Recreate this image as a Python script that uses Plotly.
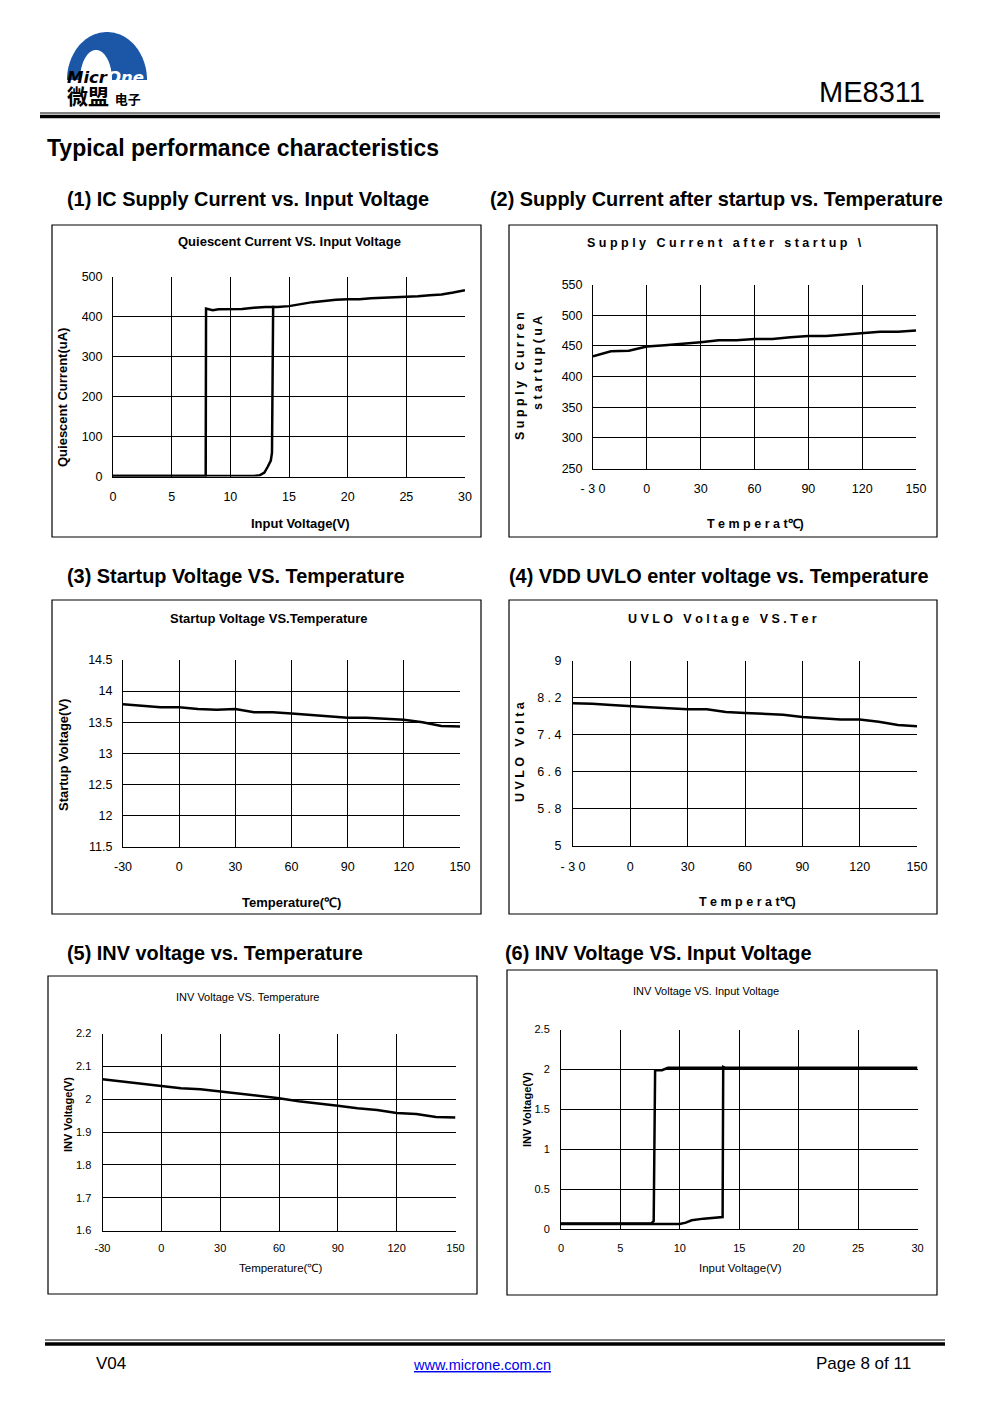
import plotly.graph_objects as go
import numpy as np

W, H = 991, 1403
def px(x): return x / W
def py(y): return 1 - y / H

# ---------------- data ----------------
# (1) Quiescent current vs input voltage
c1a_x = [0, 7.9, 7.93, 8.2, 8.5, 9, 10, 11, 12, 13, 14, 15, 16, 17, 18, 19, 20, 21, 22, 23, 24, 25, 26, 27, 28, 29, 30]
c1a_y = [1, 1, 421, 420, 417, 419, 420, 420, 423, 425, 425, 427, 432, 437, 440, 443, 444, 444, 447, 448, 449, 450, 452, 454, 456, 461, 467]
c1b_x = [0, 12, 12.5, 12.9, 13.2, 13.45, 13.55, 13.65]
c1b_y = [1, 1, 3, 10, 25, 40, 60, 428]

# temperature axis shared by (2)-(5)
temps = [-30, -20, -10, 0, 10, 20, 30, 40, 50, 60, 70, 80, 90, 100, 110, 120, 130, 140, 150]
# (2) Supply current after startup vs temperature
c2_y = [433, 441, 442, 449, 451, 453, 456, 459, 459, 461, 461, 464, 466, 466, 468, 471, 473, 473, 475]
# (3) Startup voltage vs temperature
c3_y = [13.79, 13.76, 13.74, 13.74, 13.71, 13.70, 13.71, 13.66, 13.66, 13.64, 13.62, 13.60, 13.57, 13.57, 13.56, 13.54, 13.50, 13.44, 13.43]
# (4) UVLO voltage vs temperature
c4_y = [8.08, 8.07, 8.04, 8.01, 7.99, 7.97, 7.95, 7.95, 7.89, 7.87, 7.85, 7.83, 7.78, 7.76, 7.73, 7.73, 7.68, 7.61, 7.58]
# (5) INV voltage vs temperature
c5_y = [2.061, 2.054, 2.046, 2.041, 2.033, 2.030, 2.023, 2.018, 2.009, 2.003, 1.994, 1.988, 1.980, 1.972, 1.967, 1.958, 1.955, 1.946, 1.944]
# (6) INV voltage vs input voltage
c6a_x = [0, 7.6, 7.8, 7.87, 7.92, 8.5, 8.8, 9, 30]
c6a_y = [0.07, 0.07, 0.10, 1.98, 1.99, 1.99, 2.01, 2.02, 2.02]
c6b_x = [0, 10, 10.5, 11, 12, 13, 13.6, 13.65, 13.8]
c6b_y = [0.063, 0.063, 0.08, 0.11, 0.13, 0.14, 0.15, 2.03, 2.02]

t_ticks = [-30, 0, 30, 60, 90, 120, 150]
t_text = ["-30", "0", "30", "60", "90", "120", "150"]
t_text_spaced = ["- 3 0", "0", "30", "60", "90", "120", "150"]
v_ticks = [0, 5, 10, 15, 20, 25, 30]

# ---------------- figure ----------------
fig = go.Figure()
ARIAL = "Arial, Liberation Sans, sans-serif"
NARROW = "Liberation Sans Narrow, Arial Narrow, Liberation Sans, sans-serif"

# plot area rectangles (pixels): left, right, top, bottom
areas = [
    (113, 465, 277, 476.5),
    (593, 916, 284.5, 468.5),
    (123, 460, 660, 846.5),
    (573, 917, 660.5, 846),
    (102.5, 455.5, 1033.5, 1230.5),
    (561, 917.5, 1029.5, 1229),
]

def add_line(x, y, n):
    fig.add_trace(go.Scatter(x=x, y=y, mode="lines", line=dict(color="black", width=2.5),
                             xaxis="x" if n == 1 else f"x{n}", yaxis="y" if n == 1 else f"y{n}",
                             showlegend=False, hoverinfo="skip"))

add_line(c1a_x, c1a_y, 1)
add_line(c1b_x, c1b_y, 1)
add_line(temps, c2_y, 2)
add_line(temps, c3_y, 3)
add_line(temps, c4_y, 4)
add_line(temps, c5_y, 5)
add_line(c6a_x, c6a_y, 6)
add_line(c6b_x, c6b_y, 6)

axcfg = [
    dict(xr=[0, 30], xt=v_ticks, xtt=None, yr=[0, 500], yt=[0, 100, 200, 300, 400, 500], ytt=None, f=ARIAL, fs=12.5, xl=8, yl=7),
    dict(xr=[-30, 150], xt=t_ticks, xtt=t_text_spaced,
         yr=[250, 550], yt=[250, 300, 350, 400, 450, 500, 550], ytt=None, f=ARIAL, fs=12.5, xl=8, yl=7),
    dict(xr=[-30, 150], xt=t_ticks, xtt=t_text, yr=[11.5, 14.5], yt=[11.5, 12, 12.5, 13, 13.5, 14, 14.5],
         ytt=["11.5", "12", "12.5", "13", "13.5", "14", "14.5"], f=ARIAL, fs=12.5, xl=8, yl=7),
    dict(xr=[-30, 150], xt=t_ticks, xtt=t_text_spaced,
         yr=[5, 9], yt=[5, 5.8, 6.6, 7.4, 8.2, 9], ytt=["5", "5 . 8", "6 . 6", "7 . 4", "8 . 2", "9"], f=ARIAL, fs=12.5, xl=9, yl=8),
    dict(xr=[-30, 150], xt=t_ticks, xtt=t_text, yr=[1.6, 2.2], yt=[1.6, 1.7, 1.8, 1.9, 2, 2.1, 2.2],
         ytt=["1.6", "1.7", "1.8", "1.9", "2", "2.1", "2.2"], f=NARROW, fs=11, xl=7, yl=8),
    dict(xr=[0, 30], xt=v_ticks, xtt=None, yr=[0, 2.5], yt=[0, 0.5, 1, 1.5, 2, 2.5],
         ytt=["0", "0.5", "1", "1.5", "2", "2.5"], f=NARROW, fs=11, xl=9, yl=8),
]

layout = {}
for i, ((l, r, t, b), c) in enumerate(zip(areas, axcfg), start=1):
    xk = "xaxis" if i == 1 else f"xaxis{i}"
    yk = "yaxis" if i == 1 else f"yaxis{i}"
    xa = dict(domain=[px(l), px(r)], range=c["xr"], tickmode="array", tickvals=c["xt"],
              anchor="y" if i == 1 else f"y{i}", showgrid=True, gridcolor="black", gridwidth=1,
              zeroline=False, showline=True, linecolor="black", linewidth=1, mirror=False,
              ticks="outside", ticklen=c["xl"], tickcolor="rgba(0,0,0,0)", automargin=False,
              tickfont=dict(family=c["f"], size=c["fs"], color="black"), fixedrange=True)
    if c["xtt"]:
        xa["ticktext"] = c["xtt"]
    ya = dict(domain=[py(b), py(t)], range=c["yr"], tickmode="array", tickvals=c["yt"],
              anchor="x" if i == 1 else f"x{i}", showgrid=True, gridcolor="black", gridwidth=1,
              zeroline=False, showline=True, linecolor="black", linewidth=1, mirror=False,
              ticks="outside", ticklen=c["yl"], tickcolor="rgba(0,0,0,0)", automargin=False,
              tickfont=dict(family=c["f"], size=c["fs"], color="black"), fixedrange=True)
    if c["ytt"]:
        ya["ticktext"] = c["ytt"]
    layout[xk] = xa
    layout[yk] = ya

fig.update_layout(**layout)

shapes = []
# chart boxes
boxes = [(52, 481, 225, 537), (509, 937, 225, 537), (52, 481, 600, 914), (509, 937, 600, 914),
         (48, 477, 976, 1294), (507, 937, 970, 1295)]
for (l, r, t, b) in boxes:
    shapes.append(dict(type="rect", xref="paper", yref="paper", x0=px(l), x1=px(r), y0=py(b), y1=py(t),
                       line=dict(color="black", width=1.2), fillcolor="rgba(0,0,0,0)", layer="below"))
# header / footer rules
shapes.append(dict(type="line", xref="paper", yref="paper", x0=px(40), x1=px(940), y0=py(113), y1=py(113),
                   line=dict(color="black", width=1)))
shapes.append(dict(type="line", xref="paper", yref="paper", x0=px(40), x1=px(940), y0=py(116.5), y1=py(116.5),
                   line=dict(color="black", width=3.5)))
shapes.append(dict(type="line", xref="paper", yref="paper", x0=px(45), x1=px(945), y0=py(1340), y1=py(1340),
                   line=dict(color="black", width=1)))
shapes.append(dict(type="line", xref="paper", yref="paper", x0=px(45), x1=px(945), y0=py(1344), y1=py(1344),
                   line=dict(color="black", width=3.5)))

# logo dome
th = np.linspace(0, np.pi, 60)
cx, cy, rx, ry = 107, 80, 40, 48
pts = [(cx + rx * np.cos(a), cy - ry * np.sin(a)) for a in th]
path = "M " + " L ".join(f"{px(x):.5f},{py(y):.5f}" for x, y in pts) + " Z"
shapes.append(dict(type="path", xref="paper", yref="paper", path=path, fillcolor="#1b57a6",
                   line=dict(color="#1b57a6", width=0)))
cx2, cy2, rx2, ry2 = 96, 80, 16, 30
pts2 = [(cx2 + rx2 * np.cos(a), cy2 - ry2 * np.sin(a)) for a in th]
path2 = "M " + " L ".join(f"{px(x):.5f},{py(y):.5f}" for x, y in pts2) + " Z"
shapes.append(dict(type="path", xref="paper", yref="paper", path=path2, fillcolor="white",
                   line=dict(color="white", width=0)))
fig.update_layout(shapes=shapes)

anns = []
def ann(text, x, y, size, bold=False, angle=0, xanchor="center", family=ARIAL, color="black"):
    t = f"<b>{text}</b>" if bold else text
    anns.append(dict(text=t, x=px(x), y=py(y), xref="paper", yref="paper", showarrow=False,
                     xanchor=xanchor, yanchor="middle", textangle=angle, borderpad=0,
                     font=dict(family=family, size=size, color=color)))

# header logo text: two lines in one block
logo_text = ("<b><i>Micr<span style='color:white'>One</span></i></b><br>"
             "<b><span style='font-size:21px'>微盟</span> <span style='font-size:13px'>电子</span></b>")
anns.append(dict(text=logo_text, x=px(66), y=py(88), xref="paper", yref="paper", showarrow=False,
                 xanchor="left", yanchor="middle", align="left", borderpad=0,
                 font=dict(family="DejaVu Sans, Noto Sans CJK SC", size=16.5, color="black")))
ann("ME8311", 926, 92, 29, xanchor="right")
ann("Typical performance characteristics", 46, 148, 23, bold=True, xanchor="left")

# section headings
HS = 19.9
ann("(1) IC Supply Current vs. Input Voltage", 66, 199, HS, bold=True, xanchor="left")
ann("(2) Supply Current after startup vs. Temperature", 489, 199, HS, bold=True, xanchor="left")
ann("(3) Startup Voltage VS. Temperature", 66, 576, HS, bold=True, xanchor="left")
ann("(4) VDD UVLO enter voltage vs. Temperature", 508, 576, HS, bold=True, xanchor="left")
ann("(5) INV voltage vs. Temperature", 66, 953, HS, bold=True, xanchor="left")
ann("(6) INV Voltage VS. Input Voltage", 504, 953, HS, bold=True, xanchor="left")

# chart 1
ann("Quiescent Current VS. Input Voltage", 289, 242, 13, bold=True)
ann("Quiescent Current(uA)", 63, 398, 13, bold=True, angle=-90)
ann("Input Voltage(V)", 300, 524, 13, bold=True)
# chart 2
ann("S u p p l y   C u r r e n t   a f t e r   s t a r t u p   \\", 586, 243, 12.5, bold=True, xanchor="left")
ann("S u p p l y   C u r r e n", 520, 376, 12.5, bold=True, angle=-90)
ann("s t a r t u p ( u A", 538, 363, 12.5, bold=True, angle=-90)
ann("T e m p e r a t℃)", 755, 524, 12.5, bold=True)
# chart 3
ann("Startup Voltage VS.Temperature", 268, 618, 13, bold=True)
ann("Startup Voltage(V)", 63, 755, 13, bold=True, angle=-90)
ann("Temperature(℃)", 291, 902, 13, bold=True)
# chart 4
ann("U V L O   V o l t a g e   V S . T e r", 627, 619, 12.5, bold=True, xanchor="left")
ann("U V L O   V o l t a", 520, 752, 12.5, bold=True, angle=-90)
ann("T e m p e r a t℃)", 747, 902, 12.5, bold=True)
# chart 5
ann("INV Voltage VS. Temperature", 248, 997, 11, family=NARROW)
ann("INV Voltage(V)", 68, 1115, 11, bold=True, angle=-90, family=NARROW)
ann("Temperature(℃)", 280, 1268, 11.5, family=NARROW)
# chart 6
ann("INV Voltage VS. Input Voltage", 706, 991, 11, family=NARROW)
ann("INV Voltage(V)", 527, 1110, 11, bold=True, angle=-90, family=NARROW)
ann("Input Voltage(V)", 740, 1268, 11.5, family=NARROW)

# footer
ann("V04", 111, 1363, 17)
ann("<u>www.microne.com.cn</u>", 482, 1365, 14.5, color="#0000ee")
ann("Page 8 of 11", 863, 1363, 17)

fig.update_layout(annotations=anns, width=W, height=H, margin=dict(l=0, r=0, t=0, b=0, pad=0, autoexpand=False),
                  paper_bgcolor="white", plot_bgcolor="white", showlegend=False)

fig.write_html("out.html", config={"displayModeBar": False},
               post_script="document.body.style.margin='0';document.body.style.overflow='hidden';")
